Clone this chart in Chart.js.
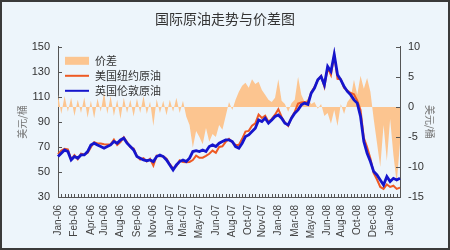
<!DOCTYPE html>
<html>
<head>
<meta charset="utf-8">
<script src="https://cdn.jsdelivr.net/npm/chart.js@4.4.1/dist/chart.umd.min.js"></script>
<style>
  html, body { margin: 0; padding: 0; background: #edf5fb; }
  #chart { display: block; }
</style>
</head>
<body>
<canvas id="chart" width="450" height="250"></canvas>
<script>
// tick labels shown under the x axis (one every ~4.8 data points)
const xLabels = ['Jan-06', 'Feb-06', 'Apr-06', 'Jun-06', 'Aug-06', 'Sep-06', 'Nov-06',
    'Jan-07', 'Mar-07', 'May-07', 'Jun-07', 'Aug-07', 'Oct-07', 'Nov-07',
    'Jan-08', 'Mar-08', 'May-08', 'Jun-08', 'Aug-08', 'Oct-08', 'Dec-08', 'Jan-09'];
const labelEvery = 4.8;

// 价差 (right axis)
const spread = [
    2.0, -1.2, 1.8, -0.8, 1.5, -1.5, 1.2, -1.0, 1.6, -1.8,
    1.0, -1.9, 1.4, -0.8, 2.4, -1.2, 1.8, -1.5, 1.2, -2.0,
    1.5, -1.0, 1.2, -1.6, 1.4, -1.0, 1.8, -1.2, 0.9, -3.2,
    1.3, -1.0, 1.0, -1.4, 1.2, -0.8, 1.5, -1.0, 1.0, -1.6,
    -3.0, -6.8, -4.0, -5.0, -6.2, -3.5, -5.8, -4.5, -5.0, -3.0,
    -3.8, -1.5, 0.8,
    -0.5, 1.2, 2.5, 3.5, 4.0, 3.2, 4.6, 3.8, 4.2, 2.8,
    2.0, 1.2, 0.8, 1.5, 4.6, 1.0, 0.5, -0.8, 0.6, 1.2,
    5.0, 2.0, 0.8, 1.4, 0.5, 0.8, -0.3, 0.5, -1.5, -1.0,
    -2.8, -0.5, -3.2, 0.5, -1.2, 0.8, 1.5, 4.5, 2.0, 5.2,
    3.0, 4.8, 2.5, -2.0, -6.0, -10.0, -3.0, -9.0, -2.0, -8.0,
    -12.7, -6.0
];

// 美国纽约原油 (left axis)
const wti = [
    64.3, 67.2, 68.6, 68.1, 60.1, 63.5, 60.2, 64.6, 64.0, 65.1,
    69.7, 73.8, 72.8, 72.8, 72.2, 71.9, 72.1, 75.8, 71.5, 73.8,
    77.8, 74.0, 69.8, 68.8, 62.7, 60.0, 61.1, 58.4, 60.5, 55.1,
    63.0, 62.6, 62.6, 60.6, 56.2, 52.8, 54.8, 59.3, 58.0, 57.8,
    58.0, 59.5, 63.0, 61.3, 61.4, 62.8, 64.5, 67.1, 65.3, 70.0,
    70.5, 74.1, 76.4,
    73.8, 71.5, 71.5, 76.5, 82.3, 82.8, 86.9, 88.8, 95.8, 93.1,
    95.0, 90.2, 92.4, 95.8, 100.2, 94.0, 89.5, 86.8, 93.6, 98.2,
    104.6, 105.6, 105.8, 105.4, 113.5, 117.8, 123.3, 126.8, 118.1, 133.3,
    127.5, 143.5, 124.4, 124.1, 117.1, 115.1, 113.1, 112.1, 107.0, 99.5,
    77.3, 69.8, 60.8, 49.0, 44.0, 38.0, 36.5, 40.0, 38.0, 39.0,
    36.5, 37.5
];

// 英国伦敦原油 (left axis)
const brent = [
    62.3, 65.0, 67.6, 66.3, 59.6, 62.3, 61.0, 63.6, 63.6, 66.3,
    71.6, 73.0, 71.6, 70.3, 69.0, 70.3, 71.6, 74.3, 73.0, 75.6,
    77.0, 73.0, 70.3, 67.6, 62.3, 61.0, 59.6, 59.0, 59.6, 58.3,
    62.3, 63.6, 62.3, 59.6, 55.6, 51.6, 55.6, 58.3, 59.6, 58.3,
    61.0, 66.3, 67.0, 66.3, 67.6, 66.3, 70.3, 71.6, 70.3, 73.0,
    74.3, 75.6, 75.6,
    74.3, 70.3, 69.0, 73.0, 78.3, 79.6, 82.3, 85.0, 91.6, 90.3,
    93.0, 89.0, 91.6, 94.3, 95.6, 93.0, 89.0, 87.6, 93.0, 97.0,
    99.6, 103.6, 105.0, 104.0, 113.0, 117.0, 123.6, 126.3, 119.6, 134.3,
    130.3, 144.0, 127.6, 123.6, 118.3, 114.3, 111.6, 107.6, 105.0, 94.3,
    74.3, 65.0, 58.3, 50.3, 47.6, 43.6, 39.6, 46.3, 42.3, 44.9,
    43.6, 44.9
];

const categories = brent.map(() => '');
xLabels.forEach((lab, j) => {
    categories[Math.round(j * labelEvery)] = lab;
});

const cjk = '"Noto Sans CJK SC", "Noto Sans", sans-serif';
const latin = '"Liberation Sans", Arial, sans-serif';

// background, inward tick marks, legend inside the plot and outer frame
const chartDecor = {
    id: 'chartDecor',
    beforeDraw(chart) {
        const ctx = chart.ctx;
        ctx.save();
        ctx.fillStyle = '#edf5fb';
        ctx.fillRect(0, 0, chart.width, chart.height);
        ctx.restore();
    },
    afterDraw(chart) {
        const { ctx, chartArea, scales } = chart;
        ctx.save();
        ctx.strokeStyle = '#555';
        ctx.lineWidth = 1;
        ctx.beginPath();
        scales.y.ticks.forEach((t, i) => {
            const py = Math.round(scales.y.getPixelForTick(i)) + 0.5;
            ctx.moveTo(chartArea.left, py);
            ctx.lineTo(chartArea.left + 4, py);
        });
        scales.y1.ticks.forEach((t, i) => {
            const py = Math.round(scales.y1.getPixelForTick(i)) + 0.5;
            ctx.moveTo(chartArea.right - 4, py);
            ctx.lineTo(chartArea.right, py);
        });
        scales.x.ticks.forEach((t, i) => {
            const px = Math.round(scales.x.getPixelForTick(i)) + 0.5;
            ctx.moveTo(px, chartArea.bottom);
            ctx.lineTo(px, chartArea.bottom - 3);
        });
        ctx.stroke();

        // legend
        ctx.font = '11px ' + cjk;
        ctx.textBaseline = 'middle';
        chart.data.datasets.forEach((ds, i) => {
            const lx = chartArea.left + 7;
            const ly = chartArea.top + 14 + i * 15;
            if (ds.fill) {
                ctx.fillStyle = ds.backgroundColor;
                ctx.fillRect(lx, ly - 4, 24, 8);
            } else {
                ctx.strokeStyle = ds.borderColor;
                ctx.lineWidth = 2;
                ctx.beginPath();
                ctx.moveTo(lx, ly);
                ctx.lineTo(lx + 24, ly);
                ctx.stroke();
            }
            ctx.fillStyle = '#333';
            ctx.fillText(ds.label, lx + 30, ly);
        });

        ctx.strokeStyle = '#3a3a3a';
        ctx.lineWidth = 2;
        ctx.strokeRect(1, 1, chart.width - 2, chart.height - 2);
        ctx.restore();
    }
};

new Chart(document.getElementById('chart'), {
    type: 'line',
    data: {
        labels: categories,
        datasets: [{
            label: '价差',
            data: spread,
            yAxisID: 'y1',
            fill: 'origin',
            backgroundColor: '#fcc590',
            borderWidth: 0,
            pointRadius: 0,
            order: 3
        }, {
            label: '美国纽约原油',
            data: wti,
            yAxisID: 'y',
            fill: false,
            borderColor: '#ee5a24',
            borderWidth: 2,
            pointRadius: 0,
            order: 2
        }, {
            label: '英国伦敦原油',
            data: brent,
            yAxisID: 'y',
            fill: false,
            borderColor: '#1515cc',
            borderWidth: 2.8,
            pointRadius: 0,
            order: 1
        }]
    },
    options: {
        responsive: false,
        animation: false,
        layout: { padding: 0 },
        plugins: {
            legend: { display: false },
            tooltip: { enabled: false },
            title: {
                display: true,
                text: '国际原油走势与价差图',
                color: '#333',
                font: { family: cjk, size: 14, weight: 'normal' },
                padding: { top: 10, bottom: 20 }
            }
        },
        scales: {
            x: {
                grid: { drawOnChartArea: false, drawTicks: false },
                border: { color: '#555' },
                ticks: {
                    autoSkip: false,
                    minRotation: 90,
                    maxRotation: 90,
                    padding: 8,
                    color: '#444',
                    font: { family: latin, size: 10 }
                },
                afterFit: (scale) => { scale.height = 53; }
            },
            y: {
                position: 'left',
                min: 30,
                max: 150,
                grid: { drawOnChartArea: false, drawTicks: false },
                border: { color: '#555' },
                ticks: { stepSize: 10, padding: 8, color: '#333', font: { family: latin, size: 11 } },
                title: {
                    display: true,
                    text: '美元/桶',
                    color: '#777',
                    font: { family: cjk, size: 10 },
                    padding: { top: 16, bottom: 0 }
                },
                afterFit: (scale) => { scale.width = 58; }
            },
            y1: {
                position: 'right',
                min: -15,
                max: 10,
                grid: { drawOnChartArea: false, drawTicks: false },
                border: { color: '#555' },
                ticks: { stepSize: 5, padding: 8, color: '#333', font: { family: latin, size: 11 } },
                title: {
                    display: true,
                    text: '美元/桶',
                    color: '#777',
                    font: { family: cjk, size: 10 },
                    padding: { top: 14, bottom: 0 }
                },
                afterFit: (scale) => { scale.width = 50; }
            }
        }
    },
    plugins: [chartDecor]
});
</script>
</body>
</html>
